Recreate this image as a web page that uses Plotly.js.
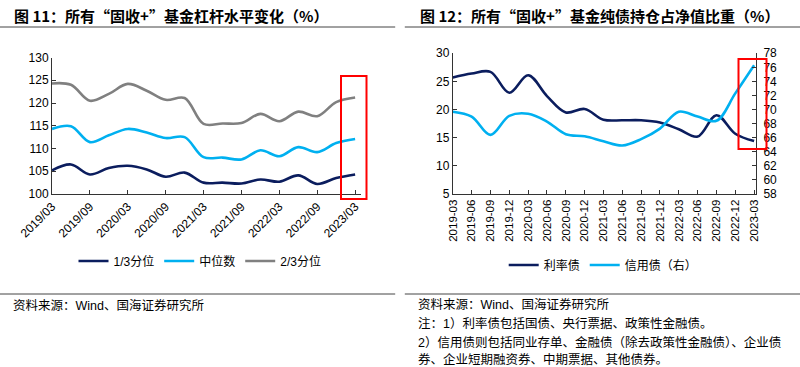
<!DOCTYPE html>
<html><head><meta charset="utf-8">
<script src="https://cdn.plot.ly/plotly-3.0.1.min.js"></script>
<style>body{margin:0;padding:0;background:#fff}#c{width:800px;height:367px}</style>
</head><body><div id="c"></div>
<script>
// Left chart: leverage
const quartersL = ["2019/03","2019/06","2019/09","2019/12","2020/03","2020/06","2020/09","2020/12","2021/03","2021/06","2021/09","2021/12","2022/03","2022/06","2022/09","2022/12","2023/03"];
const tickLabelsL = ["2019/03","2019/09","2020/03","2020/09","2021/03","2021/09","2022/03","2022/09","2023/03"];
const q1_3 = [105.2,106.5,104.3,105.7,106.2,105.4,103.8,104.7,102.5,102.5,102.3,103.2,102.7,104.1,102.2,103.5,104.3];
const median = [114.3,114.9,111.4,112.9,114.3,113.5,112.3,112.5,108.1,108.0,107.6,109.6,108.3,110.3,109.2,111.2,112.1];
const q2_3 = [124.3,124.0,120.5,122.0,124.2,122.7,120.7,121.1,115.4,115.5,115.6,117.6,116.0,118.1,117.1,120.2,121.2];

// Right chart: bond holdings
const quartersR = ["2019-03","2019-06","2019-09","2019-12","2020-03","2020-06","2020-09","2020-12","2021-03","2021-06","2021-09","2021-12","2022-03","2022-06","2022-09","2022-12","2023-03"];
const rateBond = [25.7,26.4,26.7,23.0,26.1,22.4,19.5,20.1,18.2,18.1,18.1,17.7,16.5,15.2,19.0,15.7,14.4];
const creditBond = [69.7,69.0,66.4,69.1,69.4,68.3,66.5,66.2,65.5,64.9,65.8,67.3,69.7,69.0,68.4,72.3,76.3];

const navy = '#0b1d5e', sky = '#00b0f0', grey = '#808080';
const cjk = '"Liberation Sans", Arial, "Noto Sans CJK SC", sans-serif';
const lw = 2.6;

const traces = [
  {x: quartersL, y: q1_3, name: '1/3分位', type: 'scatter', mode: 'lines', line: {color: navy, width: lw, shape: 'spline', smoothing: 1}, xaxis: 'x', yaxis: 'y', legend: 'legend'},
  {x: quartersL, y: median, name: '中位数', type: 'scatter', mode: 'lines', line: {color: sky, width: lw, shape: 'spline', smoothing: 1}, xaxis: 'x', yaxis: 'y', legend: 'legend'},
  {x: quartersL, y: q2_3, name: '2/3分位', type: 'scatter', mode: 'lines', line: {color: grey, width: lw, shape: 'spline', smoothing: 1}, xaxis: 'x', yaxis: 'y', legend: 'legend'},
  {x: quartersR, y: rateBond, name: '利率债', type: 'scatter', mode: 'lines', line: {color: navy, width: lw, shape: 'spline', smoothing: 1}, xaxis: 'x2', yaxis: 'y2', legend: 'legend2'},
  {x: quartersR, y: creditBond, name: '信用债（右）', type: 'scatter', mode: 'lines', line: {color: sky, width: lw, shape: 'spline', smoothing: 1}, xaxis: 'x2', yaxis: 'y3', legend: 'legend2'}
];

const axFont = {family: cjk, size: 12, color: '#000'};
const layout = {
  width: 800, height: 367,
  margin: {l: 0, r: 0, t: 0, b: 0},
  paper_bgcolor: '#fff', plot_bgcolor: 'rgba(0,0,0,0)',
  font: {family: cjk, color: '#000'},
  xaxis: {domain: [0.065, 0.451], type: 'category', range: [0, 16.3], tickvals: tickLabelsL, ticktext: tickLabelsL,
    tickangle: -45, ticks: 'inside', ticklen: 4, tickcolor: '#333', showline: true, linecolor: '#333', linewidth: 1,
    showgrid: false, zeroline: false, tickfont: {family: cjk, size: 12, color: '#000'}, anchor: 'y'},
  yaxis: {domain: [0.4714, 0.8433], range: [100, 130], dtick: 5, ticks: 'inside', ticklen: 4, tickcolor: '#333',
    showline: true, linecolor: '#333', linewidth: 1, showgrid: false, zeroline: false, tickfont: axFont, anchor: 'x'},
  xaxis2: {domain: [0.566, 0.945], type: 'category', range: [0, 16.1], tickangle: -90, ticks: 'inside', ticklen: 4,
    tickcolor: '#333', showline: true, linecolor: '#333', linewidth: 1, showgrid: false, zeroline: false,
    tickfont: {family: cjk, size: 11.5, color: '#000'}, anchor: 'y2'},
  yaxis2: {domain: [0.4714, 0.8548], range: [5, 30], dtick: 5, ticks: 'inside', ticklen: 4, tickcolor: '#333',
    showline: true, linecolor: '#333', linewidth: 1, showgrid: false, zeroline: false, tickfont: axFont, anchor: 'x2'},
  yaxis3: {overlaying: 'y2', side: 'right', range: [58, 78], dtick: 2, ticks: 'inside', ticklen: 4, tickcolor: '#333',
    showline: true, linecolor: '#333', linewidth: 1, showgrid: false, zeroline: false, tickfont: axFont, anchor: 'x2',
    ticklabelstandoff: 4},
  legend: {orientation: 'h', x: 0.25, xanchor: 'center', y: 0.289, yanchor: 'middle', font: {family: cjk, size: 12, color: '#000'},
    itemwidth: 30, bgcolor: 'rgba(0,0,0,0)'},
  legend2: {orientation: 'h', x: 0.754, xanchor: 'center', y: 0.278, yanchor: 'middle', font: {family: cjk, size: 12, color: '#000'},
    itemwidth: 30, bgcolor: 'rgba(0,0,0,0)'},
  showlegend: true,
  shapes: [
    {type: 'line', xref: 'paper', yref: 'paper', x0: 0, x1: 0.494, y0: 1 - 27/367, y1: 1 - 27/367, line: {color: '#444', width: 1}},
    {type: 'line', xref: 'paper', yref: 'paper', x0: 0.506, x1: 1, y0: 1 - 27/367, y1: 1 - 27/367, line: {color: '#444', width: 1}},
    {type: 'line', xref: 'paper', yref: 'paper', x0: 0, x1: 0.494, y0: 1 - 294/367, y1: 1 - 294/367, line: {color: '#444', width: 1}},
    {type: 'line', xref: 'paper', yref: 'paper', x0: 0.506, x1: 1, y0: 1 - 294/367, y1: 1 - 294/367, line: {color: '#444', width: 1}},
    {type: 'rect', xref: 'paper', yref: 'paper', x0: 341/800, x1: 366.5/800, y0: 1 - 199/367, y1: 1 - 76/367, line: {color: '#ff0000', width: 2}},
    {type: 'rect', xref: 'paper', yref: 'paper', x0: 738.5/800, x1: 766.5/800, y0: 1 - 149/367, y1: 1 - 59/367, line: {color: '#ff0000', width: 2}}
  ],
  annotations: [
    {xref: 'paper', yref: 'paper', x: 12/800, y: 1 - 15/367, xanchor: 'left', yanchor: 'middle', showarrow: false,
      text: '<b>图 11：所有“固收+”基金杠杆水平变化（%）</b>', font: {family: '"Noto Sans CJK SC", sans-serif', size: 15, color: '#000'}},
    {xref: 'paper', yref: 'paper', x: 418/800, y: 1 - 15/367, xanchor: 'left', yanchor: 'middle', showarrow: false,
      text: '<b>图 12：所有“固收+”基金纯债持仓占净值比重（%）</b>', font: {family: '"Noto Sans CJK SC", sans-serif', size: 15, color: '#000'}},
    {xref: 'paper', yref: 'paper', x: 11/800, y: 1 - 305/367, xanchor: 'left', yanchor: 'middle', showarrow: false,
      text: '资料来源：Wind、国海证券研究所', font: {family: cjk, size: 12.5, color: '#000'}},
    {xref: 'paper', yref: 'paper', x: 416/800, y: 1 - 304/367, xanchor: 'left', yanchor: 'middle', showarrow: false,
      text: '资料来源：Wind、国海证券研究所', font: {family: cjk, size: 12.5, color: '#000'}},
    {xref: 'paper', yref: 'paper', x: 416/800, y: 1 - 323/367, xanchor: 'left', yanchor: 'middle', showarrow: false,
      text: '注：1）利率债包括国债、央行票据、政策性金融债。', font: {family: cjk, size: 12.5, color: '#000'}},
    {xref: 'paper', yref: 'paper', x: 416/800, y: 1 - 342/367, xanchor: 'left', yanchor: 'middle', showarrow: false,
      text: '2）信用债则包括同业存单、金融债（除去政策性金融债）、企业债', font: {family: cjk, size: 12.5, color: '#000'}},
    {xref: 'paper', yref: 'paper', x: 416/800, y: 1 - 359/367, xanchor: 'left', yanchor: 'middle', showarrow: false,
      text: '券、企业短期融资券、中期票据、其他债券。', font: {family: cjk, size: 12.5, color: '#000'}}
  ]
};

Plotly.newPlot('c', traces, layout, {displayModeBar: false, staticPlot: true});
</script>
</body></html>
